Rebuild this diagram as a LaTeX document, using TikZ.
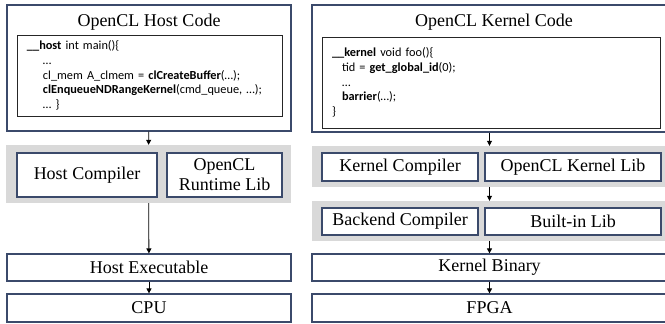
\documentclass[tikz,border=0pt]{standalone}
\usepackage{fontspec}
\setmainfont{Liberation Serif}
\newfontfamily\codefont{Carlito}
\usetikzlibrary{arrows.meta}
\definecolor{boxnavy}{HTML}{3B4A6B}
\definecolor{bandgray}{HTML}{D9D9D9}

\begin{document}
\begin{tikzpicture}[x=1pt,y=-1pt,
		panel/.style={rectangle,draw=boxnavy,line width=1.2pt,inner sep=0pt},
		codebox/.style={rectangle,draw=black!85,line width=0.9pt,inner ysep=0pt,inner xsep=10pt,align=left,
			font=\codefont\fontsize{12.3}{14.8}\selectfont},
		band/.style={rectangle,fill=bandgray,inner sep=0pt},
		unit/.style={rectangle,draw=boxnavy,fill=white,line width=1.2pt,inner sep=0pt,align=center,
			font=\fontsize{18}{20}\selectfont},
		title/.style={font=\fontsize{18}{20}\selectfont},
		flow/.style={-{Triangle[length=5pt,width=5pt]},line width=0.8pt}
		]
		\useasboundingbox (0,0) rectangle (665,324);
		
		% host side
		\node[panel,minimum width=284pt,minimum height=126pt](HostPanel) at (149,68){};
		\node[title](HostTitle) at (149,22){OpenCL Host Code};
		\node[codebox,minimum width=265pt,minimum height=81pt,text width=245pt](HostCode) at (149.5,75.5){%
			\textbf{\_\_host} int main()\{\\
			\hspace*{16pt}…\\
			\hspace*{16pt}cl\_mem A\_clmem = \textbf{clCreateBuffer}(…);\\
			\hspace*{16pt}\textbf{clEnqueueNDRangeKernel}(cmd\_queue, …);\\
			\hspace*{16pt}… \}};
		\node[band,minimum width=285pt,minimum height=58pt](HostBand) at (148.5,174){};
		\node[unit,minimum width=140pt,minimum height=44pt](HostComp) at (87,175){Host Compiler};
		\node[unit,minimum width=115pt,minimum height=44pt](RuntimeLib) at (224.5,175){OpenCL\\Runtime Lib};
		\node[unit,minimum width=284pt,minimum height=27pt](HostExe) at (149,267.5){Host Executable};
		\node[unit,minimum width=284pt,minimum height=28pt](CPU) at (149,308){CPU};
		
		\draw[flow] (HostPanel) -- (HostBand);
		\draw[flow] (HostBand) -- (HostExe);
		\draw[flow] (HostExe) -- (CPU);
		
		% kernel side
		\node[panel,minimum width=355pt,minimum height=127pt](KernPanel) at (489.5,68.5){};
		\node[title](KernTitle) at (494,22){OpenCL Kernel Code};
		\node[codebox,minimum width=338pt,minimum height=91pt,text width=318pt](KernCode) at (491,82.5){%
			\textbf{\_\_kernel} void foo()\{\\
			\hspace*{10pt}tid = \textbf{get\_global\_id}(0);\\
			\hspace*{10pt}…\\
			\hspace*{10pt}\textbf{barrier}(…);\\
			\}};
		\node[band,minimum width=355pt,minimum height=41pt](FrontBand) at (489.5,166.5){};
		\node[unit,minimum width=156pt,minimum height=28pt](KernComp) at (400,167){Kernel Compiler};
		\node[unit,minimum width=176pt,minimum height=28pt](KernLib) at (573,167){OpenCL Kernel Lib};
		\node[band,minimum width=355pt,minimum height=40pt](BackBand) at (489.5,221){};
		\node[unit,minimum width=156pt,minimum height=27pt](BackComp) at (400,221.5){Backend Compiler};
		\node[unit,minimum width=176pt,minimum height=27pt](BuiltinLib) at (573,221.5){Built-in Lib};
		\node[unit,minimum width=355pt,minimum height=27pt](KernBin) at (489.5,267.5){Kernel Binary};
		\node[unit,minimum width=355pt,minimum height=28pt](FPGA) at (489.5,308){FPGA};
		
		\draw[flow] (KernPanel) -- (FrontBand);
		\draw[flow] (FrontBand) -- (BackBand);
		\draw[flow] (BackBand) -- (KernBin);
		\draw[flow] (KernBin) -- (FPGA);
	\end{tikzpicture}
\end{document}
